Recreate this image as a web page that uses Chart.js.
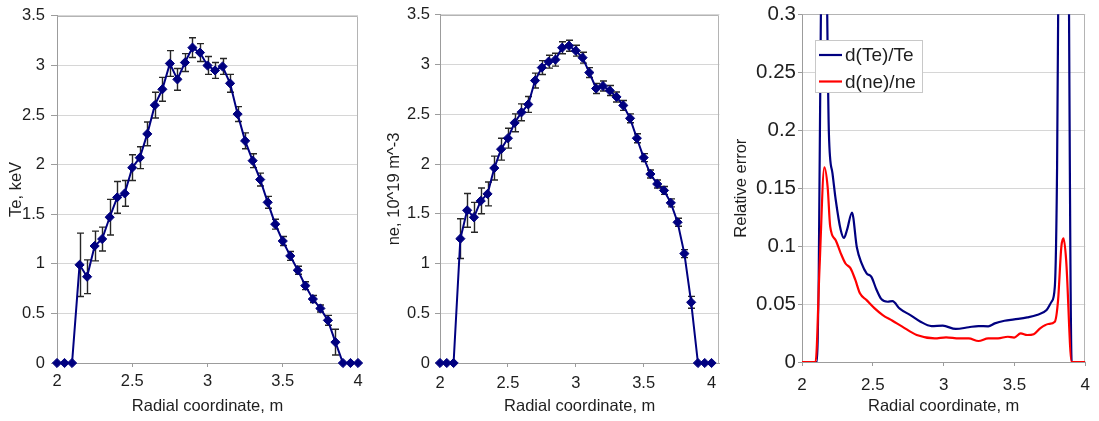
<!DOCTYPE html>
<html><head><meta charset="utf-8">
<script src="https://cdn.jsdelivr.net/npm/chart.js@4.4.1/dist/chart.umd.min.js"></script>
<style>
html,body{margin:0;padding:0;background:#fff;}
body{width:1099px;height:421px;position:relative;overflow:hidden;}
canvas{position:absolute;top:0;}
</style></head><body>
<canvas id="c1" width="370" height="421" style="left:0px"></canvas>
<canvas id="c2" width="355" height="421" style="left:370px"></canvas>
<canvas id="c3" width="374" height="421" style="left:725px"></canvas>
<script>
// ---------- data ----------
const radial = [2.00,2.05,2.10,2.15,2.20,2.25,2.30,2.35,2.40,2.45,2.50,2.55,2.60,2.65,2.70,2.75,2.80,2.85,2.90,2.95,3.00,3.05,3.10,3.15,3.20,3.25,3.30,3.35,3.40,3.45,3.50,3.55,3.60,3.65,3.70,3.75,3.80,3.85,3.90,3.95,4.00];
const teValues = [0,0,0,0.99,0.87,1.18,1.25,1.47,1.67,1.71,1.97,2.07,2.31,2.60,2.76,3.02,2.86,3.03,3.18,3.13,3.00,2.95,2.99,2.82,2.51,2.24,2.04,1.85,1.62,1.40,1.23,1.08,0.935,0.78,0.645,0.55,0.43,0.21,0,0,0];
const teErrors = [0,0,0,0.32,0.17,0.15,0.12,0.18,0.16,0.13,0.13,0.11,0.12,0.13,0.12,0.13,0.11,0.09,0.10,0.09,0.09,0.08,0.08,0.09,0.075,0.08,0.07,0.065,0.06,0.05,0.045,0.045,0.04,0.04,0.035,0.035,0.05,0.13,0,0,0];
const neValues = [0,0,0,1.25,1.535,1.465,1.63,1.70,1.96,2.15,2.26,2.415,2.52,2.60,2.84,2.97,3.03,3.05,3.17,3.19,3.14,3.07,2.92,2.76,2.785,2.74,2.675,2.59,2.46,2.26,2.065,1.90,1.80,1.735,1.61,1.415,1.10,0.61,0,0,0];
const neErrors = [0,0,0,0.20,0.17,0.15,0.13,0.12,0.12,0.11,0.10,0.09,0.085,0.08,0.075,0.07,0.065,0.065,0.06,0.055,0.055,0.055,0.05,0.05,0.05,0.05,0.05,0.05,0.045,0.045,0.04,0.04,0.04,0.04,0.04,0.04,0.04,0.06,0,0,0];

const relTeX = [2.00,2.105,2.155,2.19,2.215,2.238,2.273,2.296,2.318,2.353,2.387,2.421,2.456,2.49,2.524,2.559,2.605,2.639,2.69,2.765,2.834,2.914,2.994,3.086,3.177,3.246,3.315,3.361,3.43,3.498,3.59,3.658,3.727,3.762,3.785,3.801,3.82,3.85,3.875,3.904,4.00];
const relTeY = [0,0,0.5,0.197,0.163,0.140,0.114,0.107,0.114,0.129,0.099,0.085,0.0765,0.0735,0.063,0.0545,0.052,0.0525,0.046,0.0405,0.035,0.031,0.0313,0.0285,0.030,0.031,0.0308,0.0333,0.0356,0.0368,0.0385,0.0405,0.0448,0.052,0.065,0.168,0.5,0.7,0.5,0,0];
const relNeX = [2.00,2.096,2.124,2.158,2.181,2.199,2.238,2.273,2.307,2.342,2.376,2.41,2.456,2.513,2.57,2.639,2.708,2.81,2.937,3.017,3.109,3.177,3.246,3.315,3.384,3.453,3.498,3.544,3.59,3.636,3.681,3.739,3.785,3.808,3.831,3.847,3.865,3.904,4.00];
const relNeY = [0,0,0.082,0.168,0.151,0.117,0.105,0.094,0.085,0.081,0.071,0.059,0.0534,0.0463,0.0405,0.0356,0.0305,0.0233,0.0204,0.0213,0.0204,0.0204,0.0181,0.0204,0.0204,0.0218,0.021,0.0247,0.0233,0.024,0.029,0.0328,0.0348,0.0534,0.0994,0.1066,0.0879,0,0];

const radialTicks = [2,2.5,3,3.5,4];
const profileTicks = [0,0.5,1,1.5,2,2.5,3,3.5];
const relErrTicks = [0,0.05,0.1,0.15,0.2,0.25,0.3];
const seriesNames = ['d(Te)/Te','d(ne)/ne'];
const xTitle = 'Radial coordinate, m';
const teTitle = 'Te, keV';
const neTitle = 'ne, 10^19 m^-3';
const relTitle = 'Relative error';

// ---------- styling ----------
const FAM = '"Liberation Sans", Arial, Helvetica, sans-serif';
const TXT = '#1e1e1e';
const AXIS = '#9c9c9c';
const GRID = '#d6d6d6';
const NAVY = '#000080';
const fmt = v => String(Number(Number(v).toFixed(3)));

const errorBarPlugin = {
  id: 'errorBars',
  beforeDatasetsDraw(chart) {
    const ds = chart.data.datasets[0];
    if (!ds.errors) return;
    const {ctx} = chart; const x = chart.scales.x, y = chart.scales.y;
    ctx.save();
    ctx.strokeStyle = '#262626'; ctx.lineWidth = 1.4;
    ds.data.forEach((p, i) => {
      const e = ds.errors[i]; if (!e) return;
      const px = Math.round(x.getPixelForValue(p.x)) + 0.5;
      const y1 = y.getPixelForValue(p.y + e), y2 = y.getPixelForValue(p.y - e);
      ctx.beginPath();
      ctx.moveTo(px, y1); ctx.lineTo(px, y2);
      ctx.moveTo(px - 3.5, y1); ctx.lineTo(px + 3.5, y1);
      ctx.moveTo(px - 3.5, y2); ctx.lineTo(px + 3.5, y2);
      ctx.stroke();
    });
    ctx.restore();
  }
};
const framePlugin = {
  id: 'frame',
  beforeDatasetsDraw(chart) {
    const {ctx, chartArea: a} = chart;
    ctx.save();
    ctx.strokeStyle = '#b4b4b4'; ctx.lineWidth = 1;
    ctx.beginPath();
    ctx.moveTo(Math.round(a.left) + 0.5, Math.round(a.top) + 0.5);
    ctx.lineTo(Math.round(a.right) - 0.5, Math.round(a.top) + 0.5);
    ctx.lineTo(Math.round(a.right) - 0.5, Math.round(a.bottom));
    ctx.stroke();
    ctx.restore();
  }
};
const boxLegendPlugin = {
  id: 'boxLegend',
  afterDatasetsDraw(chart) {
    const {ctx, chartArea: a} = chart;
    const x0 = Math.round(a.left) + 13, y0 = Math.round(a.top) + 26, w = 107, h = 52;
    ctx.save();
    ctx.fillStyle = '#fff'; ctx.fillRect(x0, y0, w, h);
    ctx.strokeStyle = '#c8c8c8'; ctx.lineWidth = 1; ctx.strokeRect(x0 + 0.5, y0 + 0.5, w, h);
    ctx.font = '19px ' + FAM; ctx.textBaseline = 'middle'; ctx.textAlign = 'left';
    chart.data.datasets.forEach((ds, i) => {
      const yy = y0 + 15 + i * 26.5;
      ctx.strokeStyle = ds.borderColor; ctx.lineWidth = 2.2;
      ctx.beginPath(); ctx.moveTo(x0 + 4, yy); ctx.lineTo(x0 + 27, yy); ctx.stroke();
      ctx.fillStyle = TXT; ctx.fillText(ds.label, x0 + 30, yy + 1);
    });
    ctx.restore();
  }
};

function makeScales(c) {
  return {
    x: {
      type: 'linear', min: 2, max: c.xMax,
      afterBuildTicks: s => { s.ticks = radialTicks.map(v => ({value: v})); },
      afterFit: s => { s.height = c.xH; },
      ticks: { callback: fmt, autoSkip: false, maxRotation: 0, color: TXT, padding: c.xPad, font: {family: FAM, size: c.xTick} },
      grid: { drawOnChartArea: false, drawTicks: true, tickLength: 4, tickColor: AXIS },
      border: { display: true, color: AXIS, width: 1 },
      title: { display: true, text: xTitle, color: TXT, font: {family: FAM, size: 16.5}, padding: {top: 0, bottom: 5} }
    },
    y: {
      type: 'linear', min: 0, max: c.yMax,
      afterBuildTicks: s => { s.ticks = c.yTicks.map(v => ({value: v})); },
      afterFit: s => { s.width = c.yW; },
      ticks: { callback: fmt, autoSkip: false, color: TXT, padding: c.yPad, font: {family: FAM, size: c.yTick} },
      grid: { color: GRID, lineWidth: 1, drawTicks: true, tickLength: c.yTL, tickColor: AXIS },
      border: { display: true, color: AXIS, width: 1 },
      title: { display: true, text: c.yTitle, color: TXT, font: {family: FAM, size: 16.5}, padding: {top: c.yTitlePad, bottom: 0} }
    }
  };
}

function baseOptions(c) {
  return {
    responsive: false, animation: false, devicePixelRatio: 1, events: [],
    layout: { padding: {left: 0, top: 14, right: c.padR, bottom: 0} },
    plugins: { legend: {display: false}, tooltip: {enabled: false} },
    scales: makeScales(c)
  };
}

function profileDataset(values, errors) {
  return {
    data: radial.map((r, i) => ({x: r, y: values[i]})),
    errors: errors,
    borderColor: NAVY, borderWidth: 2, tension: 0, clip: false,
    pointStyle: 'rectRot', pointRadius: 4.6, pointBackgroundColor: NAVY, pointBorderColor: NAVY, pointBorderWidth: 1
  };
}

new Chart(document.getElementById('c1'), {
  type: 'line',
  data: { datasets: [profileDataset(teValues, teErrors)] },
  options: baseOptions({xMax: 4, xH: 58, xPad: 5, xTick: 16.5, yMax: 3.5, yTicks: profileTicks, yW: 57, yPad: 6, yTL: 6, yTick: 16.5, yTitle: teTitle, yTitlePad: 7, padR: 12}),
  plugins: [framePlugin, errorBarPlugin]
});

new Chart(document.getElementById('c2'), {
  type: 'line',
  data: { datasets: [profileDataset(neValues, neErrors)] },
  options: baseOptions({xMax: 4.058, xH: 58, xPad: 7, xTick: 16.5, yMax: 3.5, yTicks: profileTicks, yW: 70, yPad: 5, yTL: 5, yTick: 16.5, yTitle: neTitle, yTitlePad: 15, padR: 2}),
  plugins: [framePlugin, errorBarPlugin]
});

new Chart(document.getElementById('c3'), {
  type: 'line',
  data: { datasets: [
    { label: seriesNames[0], order: 1, data: relTeX.map((r, i) => ({x: r, y: relTeY[i]})),
      borderColor: NAVY, borderWidth: 2.2, pointRadius: 0, cubicInterpolationMode: 'monotone', tension: 0.4 },
    { label: seriesNames[1], order: 0, data: relNeX.map((r, i) => ({x: r, y: relNeY[i]})),
      borderColor: '#ff0000', borderWidth: 2.2, pointRadius: 0, cubicInterpolationMode: 'monotone', tension: 0.4 }
  ]},
  options: baseOptions({xMax: 4, xH: 59, xPad: 9, xTick: 17, yMax: 0.3, yTicks: relErrTicks, yW: 77, yPad: 2, yTL: 4, yTick: 20.5, yTitle: relTitle, yTitlePad: 7, padR: 6}),
  plugins: [framePlugin, boxLegendPlugin]
});
</script>
</body></html>
